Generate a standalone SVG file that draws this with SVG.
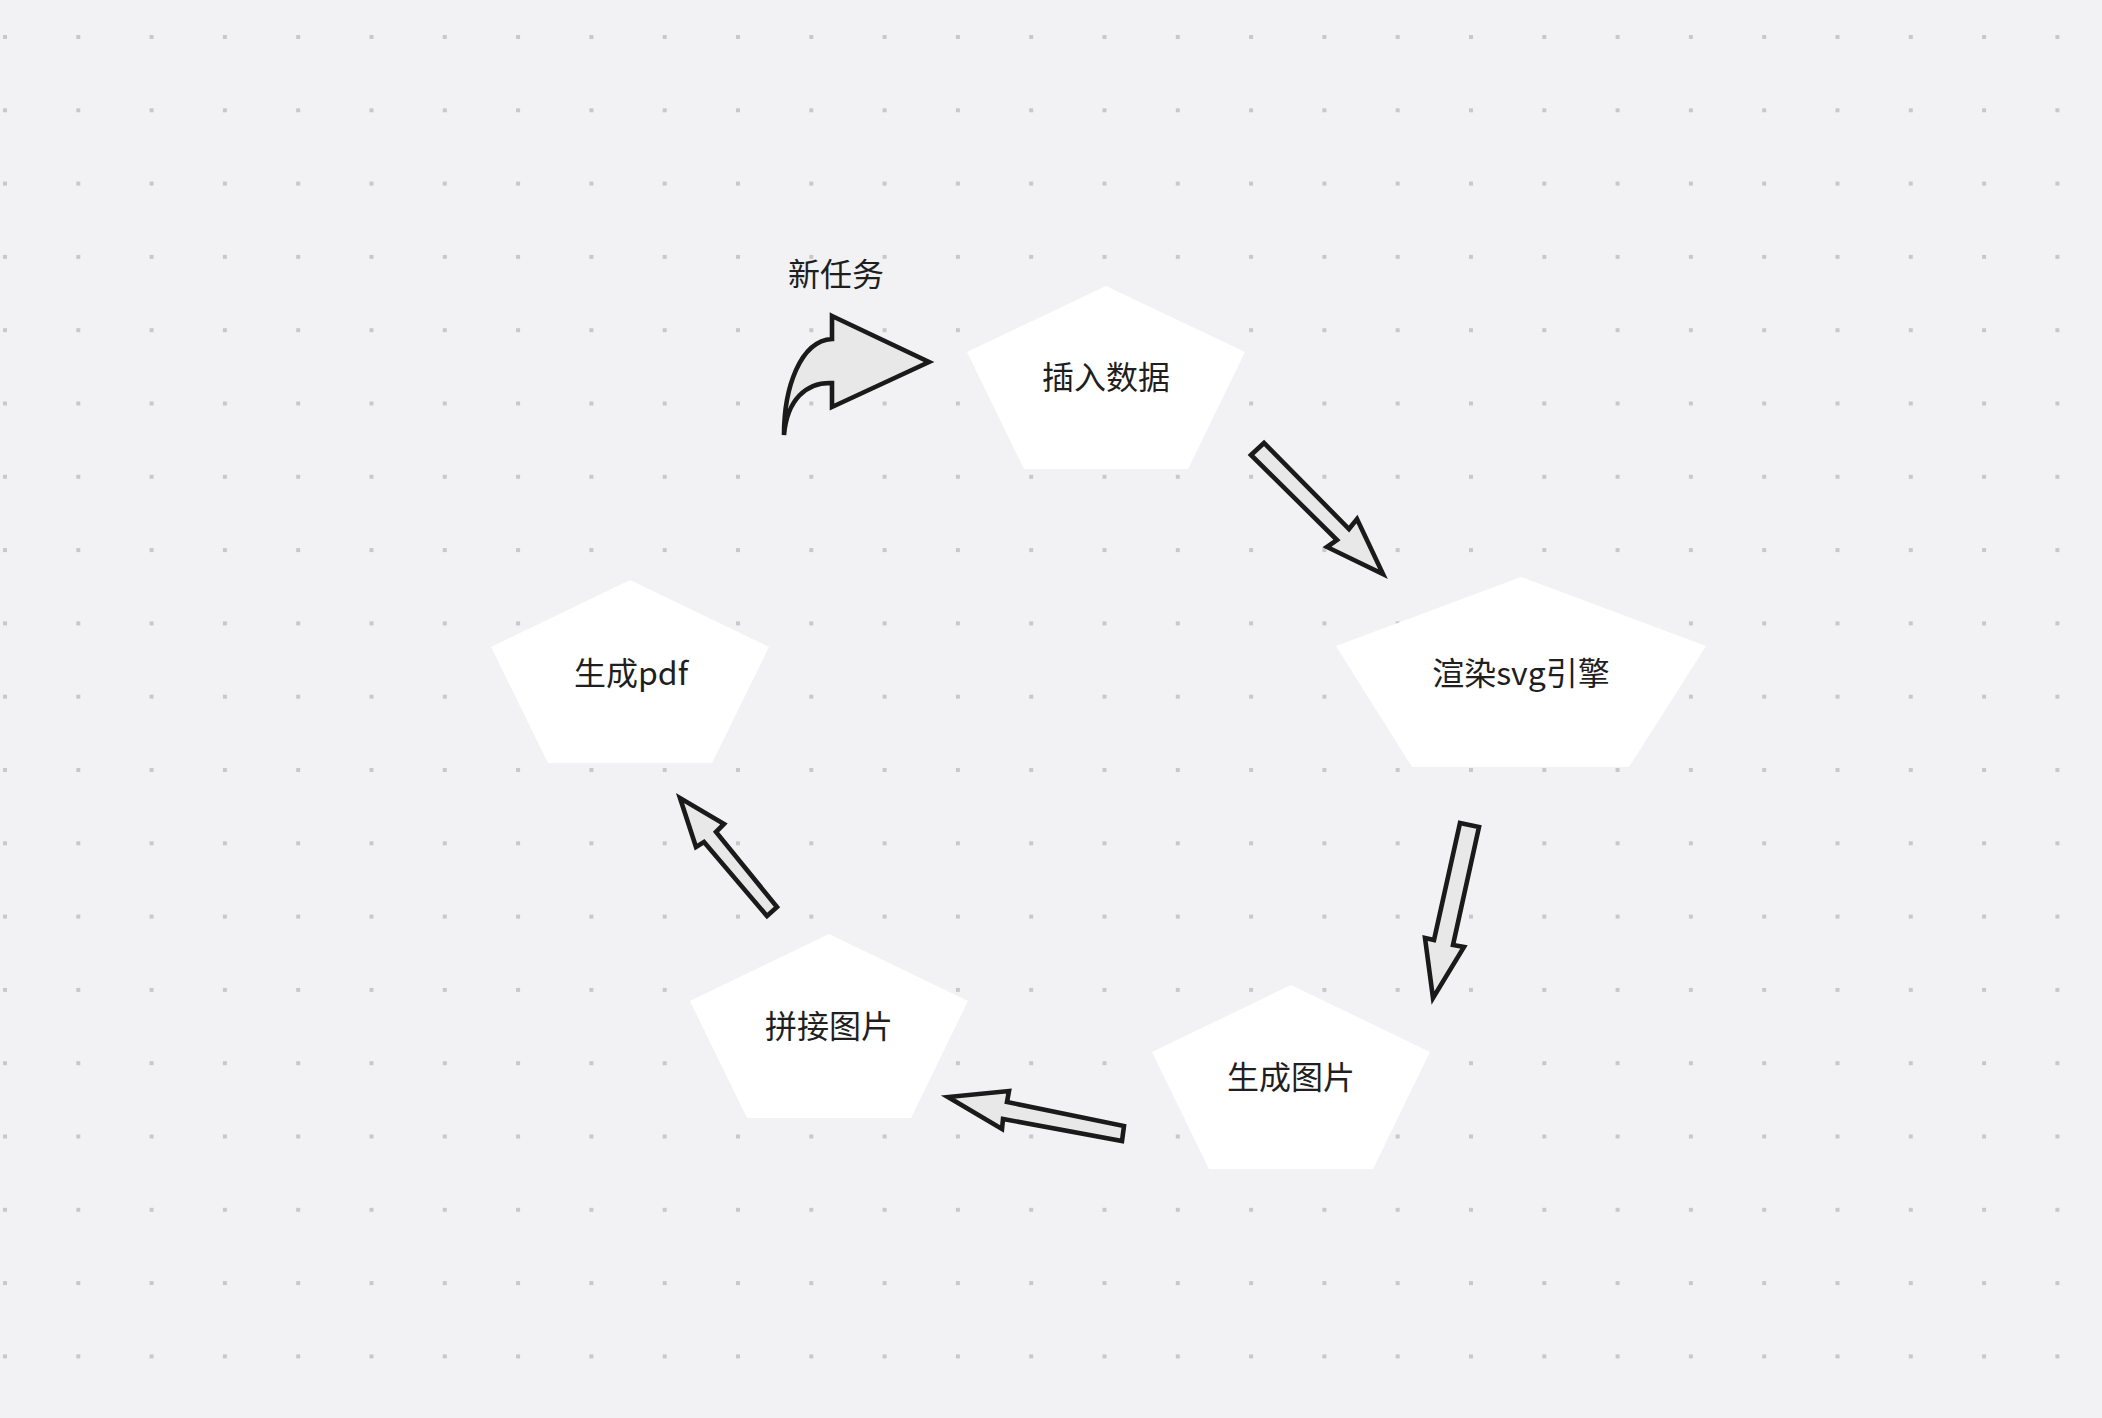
<svg xmlns="http://www.w3.org/2000/svg" width="2102" height="1418" viewBox="0 0 2102 1418">
<defs>
<pattern id="dots" x="3" y="35" width="73.3" height="73.3" patternUnits="userSpaceOnUse">
<rect x="0" y="0" width="4" height="4" fill="#c8c8cb"/>
</pattern>
<style>
.node{fill:#ffffff;stroke:none}
.lbl{font-family:"Noto Sans CJK SC","Noto Sans",sans-serif;font-size:32px;fill:#1f1f1f;text-anchor:middle}
.arr{fill:#e8e8e8;stroke:#1a1a1a;stroke-width:4.6;stroke-linejoin:miter}
</style>
</defs>
<rect width="2102" height="1418" fill="#f2f2f4"/>
<rect width="2102" height="1418" fill="url(#dots)"/>

<g id="connectors">
<g id="arrow-new">
<path class="arr" d="M832,316 L929,362 L832,407 L832,383 C806,382 787,400 784,435 C784,388 800,341 832,339 Z"/>
<text class="lbl" x="836" y="286">新任务</text>
</g>
<polygon id="arrow-1" class="arr" points="1251,455 1264,443 1349,529 1357,519 1383,574 1327,547 1337,540"/>
<polygon id="arrow-2" class="arr" points="1460,823 1479,827 1453,945 1464,947 1433,998 1425,938 1434,940"/>
<polygon id="arrow-3" class="arr" points="1124,1126 1122,1141 1003,1119 1002,1129 948,1097 1009,1091 1007,1102"/>
<polygon id="arrow-4" class="arr" points="777,907 767,916 704,842 696,847 680,798 724,824 716,832"/>
</g>

<g id="node-insert">
<polygon class="node" points="1106,286 1245,352 1188,469 1024,469 967,352"/>
<text class="lbl" x="1106" y="389">插入数据</text>
</g>
<g id="node-render">
<polygon class="node" points="1521,577 1706,646 1629,767 1412,767 1336,646"/>
<text class="lbl" x="1521" y="685">渲染svg引擎</text>
</g>
<g id="node-image">
<polygon class="node" points="1291,985 1430,1052 1373,1169 1209,1169 1152,1052"/>
<text class="lbl" x="1291" y="1089">生成图片</text>
</g>
<g id="node-merge">
<polygon class="node" points="829,934 968,1001 911,1118 747,1118 690,1001"/>
<text class="lbl" x="829" y="1038">拼接图片</text>
</g>
<g id="node-pdf">
<polygon class="node" points="630,580 769,647 712,763 548,763 491,647"/>
<text class="lbl" x="631" y="685">生成pdf</text>
</g>
</svg>
